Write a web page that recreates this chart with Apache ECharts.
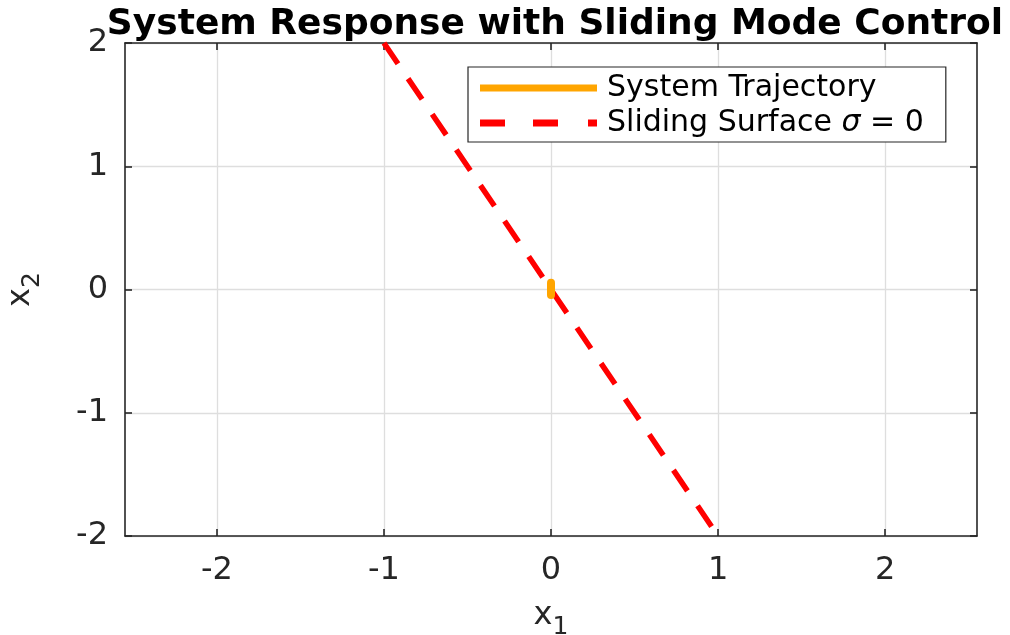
<!DOCTYPE html>
<html><head><meta charset="utf-8">
<script src="https://cdn.jsdelivr.net/npm/echarts@6/dist/echarts.min.js"></script>
<style>html,body{margin:0;padding:0;background:#fff}#c{width:1010px;height:635px}</style>
</head><body><div id="c"></div>
<script>
const xTicks = [-2, -1, 0, 1, 2];
const yTicks = [-2, -1, 0, 1, 2];
const trajX = [0, 0];
const trajY = [0.055, -0.045];
const surfX = [-1, 1];
const surfY = [2, -2];
const seriesNames = ['System Trajectory', 'Sliding Surface \u03c3 = 0'];

const chart = echarts.init(document.getElementById('c'));
const axisCol = '#262626';
const font = 'DejaVu Sans';
function xa(show, pos){
  return {
    type:'value', min:-2.55, max:2.55, position:pos,
    axisLine:{show:true, onZero:false, lineStyle:{color:axisCol, width:1.6}},
    axisTick:{show:true, inside:true, length:7, customValues:xTicks, lineStyle:{color:axisCol, width:1.6}},
    axisLabel:{show:show, customValues:xTicks, color:axisCol, fontFamily:font, fontSize:32, margin:19},
    splitLine:{show:show, lineStyle:{color:'#dedede', width:1.3}},
    name: show ? '{a|x}{b|1}' : '', nameLocation:'middle', nameGap:55,
    nameTextStyle:{rich:{a:{fontSize:32, fontFamily:font, color:axisCol}, b:{fontSize:25, fontFamily:font, color:axisCol, padding:[24,0,0,0]}}}
  };
}
function ya(show, pos){
  return {
    type:'value', min:-2, max:2, interval:1, position:pos,
    axisLine:{show:true, onZero:false, lineStyle:{color:axisCol, width:1.6}},
    axisTick:{show:true, inside:true, length:7, lineStyle:{color:axisCol, width:1.6}},
    axisLabel:{show:show, color:axisCol, fontFamily:font, fontSize:32, margin:17},
    splitLine:{show:show, lineStyle:{color:'#dedede', width:1.3}},
    name: show ? '{a|x}{b|2}' : '', nameLocation:'middle', nameGap:80,
    nameTextStyle:{rich:{a:{fontSize:32, fontFamily:font, color:axisCol}, b:{fontSize:25, fontFamily:font, color:axisCol, padding:[24,0,0,0]}}}
  };
}
chart.setOption({
  animation:false,
  title:{text:'System Response with Sliding Mode Control', left:550, textAlign:'center', top:2,
    textStyle:{fontFamily:font, fontWeight:'bold', fontSize:36, color:'#000'}},
  grid:{left:125, right:33, top:43, bottom:99, containLabel:false, outerBoundsMode:'none'},
  xAxis:[xa(true,'bottom'), xa(false,'top')],
  yAxis:[ya(true,'left'), ya(false,'right')],
  legend:{
    orient:'vertical', left:468, top:67,
    backgroundColor:'#fff', borderColor:'#262626', borderWidth:1.2,
    padding:[6,22,4,12], itemGap:5, itemWidth:117, itemHeight:7,
    textStyle:{fontFamily:font, fontSize:30, color:'#000', padding:[0,0,0,5],
      rich:{n:{fontFamily:font, fontSize:30, color:'#000'}, i:{fontFamily:font, fontSize:30, fontStyle:'italic', color:'#000'}}},
    formatter: function(name){
      if (name.indexOf('\u03c3') >= 0) { const p = name.split('\u03c3'); return '{n|' + p[0] + '}{i|\u03c3}{n|' + p[1] + '}'; }
      return '{n|' + name + '}';
    },
    data:[
      {name:seriesNames[0], icon:'rect'},
      {name:seriesNames[1], icon:'path://M0,0H25V7H0Z M53,0H78V7H53Z M108,0H117V7H108Z'}
    ]
  },
  series:[
    {name:seriesNames[1], type:'line', xAxisIndex:0, yAxisIndex:0, showSymbol:false, symbol:'none',
      data:surfX.map((v,i)=>[v,surfY[i]]),
      lineStyle:{color:'#ff0000', width:5.5, type:[25,18], cap:'butt'}, itemStyle:{color:'#ff0000'}, z:2},
    {name:seriesNames[0], type:'line', xAxisIndex:0, yAxisIndex:0, showSymbol:false, symbol:'none',
      data:trajX.map((v,i)=>[v,trajY[i]]),
      lineStyle:{color:'#ffa500', width:8, cap:'round'}, itemStyle:{color:'#ffa500'}, z:3}
  ]
});
</script></body></html>
